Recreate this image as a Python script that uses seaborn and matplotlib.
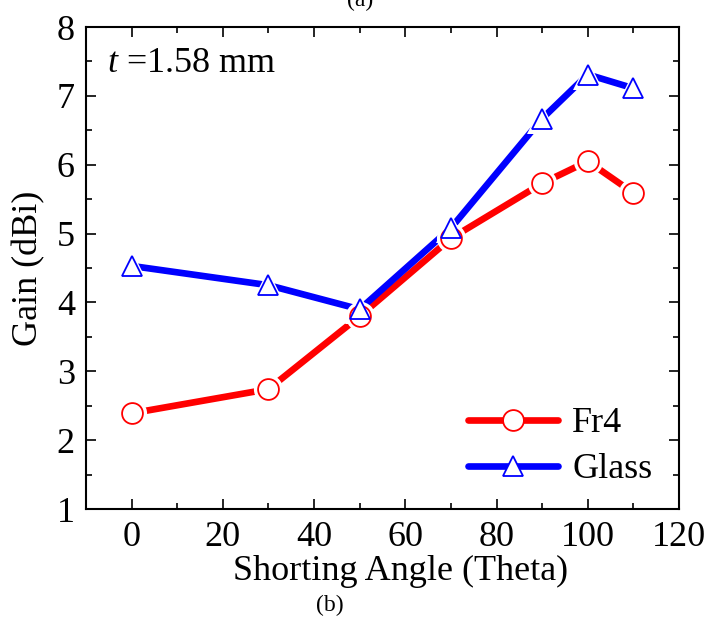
import matplotlib
matplotlib.use("Agg")
import matplotlib.pyplot as plt
import seaborn as sns
import pandas as pd
from matplotlib.ticker import MultipleLocator
from matplotlib.lines import Line2D

angles = [0, 30, 50, 70, 90, 100, 110]
fr4_gain = [2.39, 2.74, 3.80, 4.93, 5.73, 6.05, 5.59]
glass_gain = [4.53, 4.25, 3.90, 5.08, 6.67, 7.31, 7.11]
series_names = ["Fr4", "Glass"]
series_colors = ["#ff0000", "#0000ff"]
series_markers = ["o", "^"]

sns.set_theme(style="ticks")
plt.rcParams["font.family"] = ["Liberation Serif", "DejaVu Serif"]
plt.rcParams["mathtext.fontset"] = "custom"
plt.rcParams["mathtext.it"] = "Liberation Serif:italic"
plt.rcParams["mathtext.rm"] = "Liberation Serif"
plt.rcParams["text.color"] = "black"
plt.rcParams["axes.labelcolor"] = "black"
plt.rcParams["xtick.color"] = "black"
plt.rcParams["ytick.color"] = "black"

df = pd.DataFrame({
    "angle": angles * 2,
    "gain": fr4_gain + glass_gain,
    "series": [series_names[0]] * len(angles) + [series_names[1]] * len(angles),
})

fig = plt.figure(figsize=(7.11, 6.21), dpi=100)
ax = fig.add_axes([86 / 711, 1 - 509 / 621, (679 - 86) / 711, (509 - 27) / 621])

sns.lineplot(data=df, x="angle", y="gain", hue="series", palette=series_colors,
             hue_order=series_names, linewidth=4.8, ax=ax, legend=False, sort=False)

for name, col, mk in zip(series_names, series_colors, series_markers):
    sub = df[df["series"] == name]
    ax.plot(sub["angle"], sub["gain"], ls="none", marker=mk, ms=21, mfc="white",
            mec="white", mew=0, zorder=3)
    ax.plot(sub["angle"], sub["gain"], ls="none", marker=mk, ms=15, mfc="white",
            mec=col, mew=1.3, zorder=4)

ax.set_xlim(-10, 120)
ax.set_ylim(1, 8)
ax.xaxis.set_major_locator(MultipleLocator(20))
ax.xaxis.set_minor_locator(MultipleLocator(10))
ax.yaxis.set_major_locator(MultipleLocator(1))
ax.yaxis.set_minor_locator(MultipleLocator(0.5))
ax.tick_params(which="both", direction="in", top=True, right=True, colors="black",
               labelsize=26, width=1.2)
ax.tick_params(which="major", length=7)
ax.tick_params(which="minor", length=4)
ax.tick_params(axis="x", pad=9)
ax.tick_params(axis="y", pad=8)
for s in ax.spines.values():
    s.set_linewidth(1.5)
    s.set_color("black")

ax.set_xlabel("Shorting Angle (Theta)", fontsize=26, labelpad=0)
ax.xaxis.set_label_coords(0.53, -0.13)
ax.xaxis.label.set_va("center")
ax.set_ylabel("Gain (dBi)", fontsize=26, labelpad=8)

ax.text(0.035, 0.925, r"$t$ =1.58 mm", transform=ax.transAxes, fontsize=26,
        va="center", ha="left")

handles = [Line2D([], [], color=c, lw=4.8, marker=m, ms=15, mfc="white", mec=c, mew=1.3)
           for c, m in zip(series_colors, series_markers)]
ax.legend(handles, series_names, loc="lower right", frameon=False, fontsize=26,
          handlelength=2.5, handletextpad=0.4, labelspacing=0.35,
          bbox_to_anchor=(1.01, -0.02))

fig.text(330 / 711, 1 - 605 / 621, "(b)", fontsize=17, ha="center", va="center")
fig.text(360 / 711, 1.0, "(a)", fontsize=17, ha="center", va="center")

fig.savefig("out.png", dpi=100)
